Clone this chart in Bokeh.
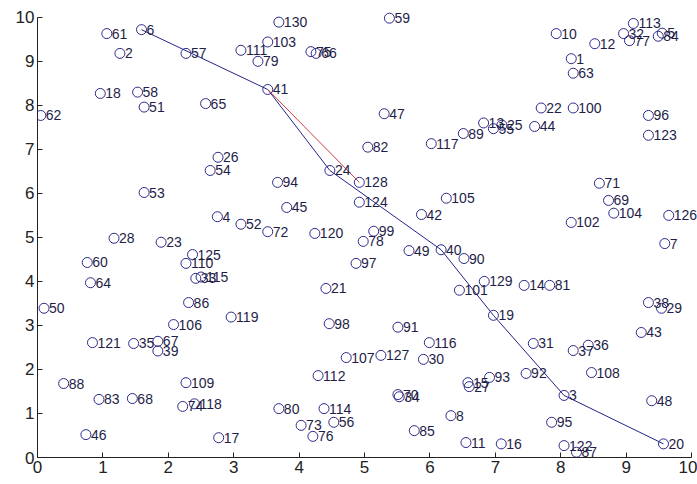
from bokeh.plotting import figure
from bokeh.models import ColumnDataSource, Range1d, FixedTicker
from bokeh.core.properties import value
from bokeh.embed import file_html
from bokeh.resources import INLINE

labels = ["61", "6", "2", "18", "58", "51", "62", "57", "130", "103", "111", "79", "75", "66",
          "41", "65", "26", "59", "47", "82", "117", "89", "13", "55", "25", "44", "22", "100",
          "10", "1", "63", "12", "113", "32", "77", "5", "84", "96", "123", "53", "28", "23",
          "60", "64", "50", "54", "94", "24", "45", "4", "52", "72", "120", "125", "110", "33",
          "115", "86", "21", "119", "128", "124", "105", "42", "99", "78", "49", "40", "90", "97",
          "129", "101", "19", "71", "69", "104", "102", "126", "7", "14", "81", "38", "29", "121",
          "35", "67", "39", "106", "88", "83", "68", "46", "109", "74", "118", "17", "80", "114",
          "73", "56", "76", "112", "98", "107", "127", "91", "116", "30", "70", "34", "8", "85",
          "11", "16", "15", "27", "93", "92", "31", "37", "36", "108", "43", "48", "3", "95", "20",
          "122", "87"]
xs = [1.06, 1.59, 1.26, 0.96, 1.53, 1.63, 0.05, 2.27, 3.69, 3.52, 3.11, 3.37, 4.18, 4.26,
      3.52, 2.57, 2.76, 5.38, 5.30, 5.05, 6.02, 6.51, 6.82, 6.97, 7.10, 7.60, 7.70, 8.19,
      7.93, 8.16, 8.19, 8.52, 9.11, 8.96, 9.05, 9.55, 9.49, 9.34, 9.34, 1.63, 1.17, 1.89,
      0.76, 0.81, 0.10, 2.64, 3.67, 4.47, 3.81, 2.75, 3.11, 3.52, 4.24, 2.37, 2.27, 2.42,
      2.50, 2.31, 4.41, 2.96, 4.92, 4.92, 6.25, 5.87, 5.14, 4.98, 5.68, 6.17, 6.52, 4.87,
      6.83, 6.45, 6.97, 8.59, 8.73, 8.81, 8.16, 9.65, 9.59, 7.44, 7.83, 9.34, 9.54, 0.84,
      1.47, 1.84, 1.84, 2.08, 0.40, 0.94, 1.45, 0.74, 2.27, 2.22, 2.40, 2.77, 3.69, 4.38,
      4.03, 4.53, 4.21, 4.29, 4.46, 4.72, 5.25, 5.51, 5.99, 5.90, 5.51, 5.53, 6.32, 5.76,
      6.55, 7.09, 6.58, 6.60, 6.91, 7.47, 7.58, 8.19, 8.42, 8.47, 9.23, 9.39, 8.05, 7.86, 9.57,
      8.05, 8.24]
ys = [9.63, 9.72, 9.18, 8.27, 8.30, 7.96, 7.77, 9.18, 9.89, 9.44, 9.25, 9.00, 9.22, 9.18,
      8.36, 8.04, 6.82, 9.98, 7.81, 7.05, 7.13, 7.36, 7.60, 7.47, 7.55, 7.52, 7.94, 7.94,
      9.63, 9.06, 8.73, 9.40, 9.86, 9.63, 9.47, 9.64, 9.57, 7.77, 7.32, 6.02, 4.98, 4.89,
      4.43, 3.97, 3.39, 6.52, 6.25, 6.52, 5.68, 5.47, 5.30, 5.13, 5.09, 4.61, 4.41, 4.07,
      4.10, 3.52, 3.84, 3.19, 6.25, 5.80, 5.89, 5.52, 5.14, 4.91, 4.70, 4.72, 4.52, 4.41,
      4.00, 3.80, 3.23, 6.23, 5.84, 5.55, 5.34, 5.50, 4.86, 3.91, 3.91, 3.52, 3.39, 2.61,
      2.59, 2.64, 2.42, 3.02, 1.68, 1.32, 1.34, 0.52, 1.70, 1.16, 1.22, 0.45, 1.11, 1.11,
      0.73, 0.80, 0.48, 1.86, 3.04, 2.27, 2.32, 2.96, 2.61, 2.23, 1.43, 1.38, 0.95, 0.61,
      0.34, 0.31, 1.70, 1.61, 1.82, 1.91, 2.59, 2.43, 2.55, 1.93, 2.84, 1.29, 1.41, 0.80, 0.31,
      0.27, 0.12]

path_nodes = ["6", "41", "24", "40", "19", "3", "20"]
alt_nodes = ["41", "128"]
tick_values = [0, 1, 2, 3, 4, 5, 6, 7, 8, 9, 10]

pos = {l: (x, y) for l, x, y in zip(labels, xs, ys)}

p = figure(width=697, height=481, output_backend="svg", toolbar_location=None,
           x_range=Range1d(0, 10.09), y_range=Range1d(0, 10.2),
           min_border_left=37, min_border_right=0, min_border_top=8, min_border_bottom=24)
p.outline_line_color = None
p.grid.visible = False
p.background_fill_color = "white"
p.border_fill_color = "white"

for ax in (p.xaxis[0], p.yaxis[0]):
    ax.ticker = FixedTicker(ticks=tick_values)
    ax.bounds = (0, 10)
    ax.major_tick_in = 5
    ax.major_tick_out = 0
    ax.minor_tick_line_color = None
    ax.axis_line_color = "#222222"
    ax.major_tick_line_color = "#222222"
    ax.major_label_text_font = "Liberation Sans"
    ax.major_label_text_font_size = "17px"
    ax.major_label_text_color = "#222222"
    ax.major_label_standoff = 3

src = ColumnDataSource(dict(x=xs, y=ys, label=labels))

p.line([pos[n][0] for n in path_nodes], [pos[n][1] for n in path_nodes],
       line_color="#23238a", line_width=1)
p.line([pos[n][0] for n in alt_nodes], [pos[n][1] for n in alt_nodes],
       line_color="#d04040", line_width=1)

p.scatter("x", "y", source=src, marker="circle", size=10, fill_color=None,
          line_color="#2a2a8c", line_width=1)
p.text("x", "y", text="label", source=src, x_offset=5, text_baseline="middle",
       text_align="left", text_font=value("Liberation Sans"), text_font_size="14px",
       text_color="#1e1e48")

open("out.html", "w").write(file_html(p, INLINE))
